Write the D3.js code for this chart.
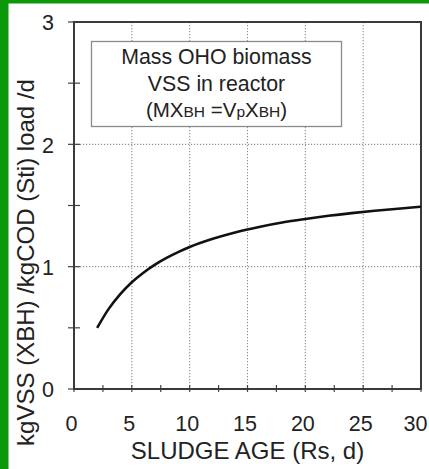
<!DOCTYPE html>
<html><head><meta charset="utf-8">
<script src="https://cdn.jsdelivr.net/npm/d3@7"></script>
<style>
html,body{margin:0;padding:0;background:#fff;}
svg{display:block;}
text{font-family:"Liberation Sans",Arial,sans-serif;fill:#222;}
</style></head>
<body>
<svg id="chart" width="429" height="469"></svg>
<script>
// Data
const sludgeAge = [2, 3, 4, 5, 6, 7, 8, 9, 10, 12, 14, 16, 18, 20, 22, 24, 26, 28, 30];
const biomassPerLoad = [0.50, 0.655, 0.776, 0.873, 0.951, 1.017, 1.072, 1.119, 1.161, 1.228, 1.282, 1.325, 1.361, 1.39, 1.416, 1.438, 1.457, 1.474, 1.49];
const xTicks = [0, 5, 10, 15, 20, 25, 30];
const yTicks = [0, 1, 2, 3];
const xMinorTicks = [2.5, 7.5, 12.5, 17.5, 22.5, 27.5];
const yMinorTicks = [0.5, 1.5, 2.5];
const xTitle = "SLUDGE AGE (Rs, d)";
const yTitle = "kgVSS (XBH) /kgCOD (Sti) load /d";

const svg = d3.select("#chart");
// green border strips
svg.append("rect").attr("x",0).attr("y",0).attr("width",429).attr("height",3.5).attr("fill","#0b990b");
svg.append("rect").attr("x",0).attr("y",0).attr("width",8.5).attr("height",469).attr("fill","#0b990b");

const L = 74, R = 421, T = 22, B = 389;
const x = d3.scaleLinear().domain([0,30]).range([L,R]);
const y = d3.scaleLinear().domain([0,3]).range([B,T]);

// gridlines
const grid = svg.append("g").attr("stroke","#8f8f8f").attr("stroke-width",1.1).attr("stroke-dasharray","1.2,1.8");
grid.selectAll("line.v").data(xTicks.filter(d=>d>0&&d<30)).join("line")
  .attr("x1",d=>x(d)).attr("x2",d=>x(d)).attr("y1",T).attr("y2",B);
grid.selectAll("line.h").data(yTicks.filter(d=>d>0&&d<3)).join("line")
  .attr("x1",L).attr("x2",R).attr("y1",d=>y(d)).attr("y2",d=>y(d));

// text box
svg.append("rect").attr("x",91.5).attr("y",41.5).attr("width",250).attr("height",85)
  .attr("fill","#fff").attr("stroke","#8a8a8a").attr("stroke-width",1.3);
const bx = 216.5;
svg.append("text").attr("x",bx).attr("y",64).attr("text-anchor","middle").attr("font-size",21.3).text("Mass OHO biomass");
svg.append("text").attr("x",bx).attr("y",90.5).attr("text-anchor","middle").attr("font-size",21.3).text("VSS in reactor");
const t3 = svg.append("text").attr("x",bx).attr("y",116.5).attr("text-anchor","middle").attr("font-size",20.5);
t3.append("tspan").text("(MX");
t3.append("tspan").attr("font-size",15.5).attr("dy",0.5).text("BH");
t3.append("tspan").attr("dy",-0.5).text(" =V");
t3.append("tspan").attr("font-size",15.5).attr("dy",0.5).text("p");
t3.append("tspan").attr("dy",-0.5).text("X");
t3.append("tspan").attr("font-size",15.5).attr("dy",0.5).text("BH");
t3.append("tspan").attr("dy",-0.5).text(")");

// axes with d3
const xAxis = d3.axisBottom(x).tickValues(xTicks).tickSize(0).tickPadding(0).tickFormat(d3.format("d"));
const gx = svg.append("g").attr("transform",`translate(0,${B})`).call(xAxis);
gx.select(".domain").remove();
gx.selectAll("text").attr("y",41.5).attr("dy",null).attr("x",d=>d===30?-6:-3)
  .attr("font-size",21.5).attr("fill","#222").attr("font-family","Liberation Sans, Arial, sans-serif");

const yAxis = d3.axisLeft(y).tickValues(yTicks).tickSize(0).tickPadding(0).tickFormat(d3.format("d"));
const gy = svg.append("g").attr("transform",`translate(${L},0)`).call(yAxis);
gy.select(".domain").remove();
gy.selectAll("text").attr("x",-20).attr("dy","0.36em").attr("font-size",21.5).attr("fill","#222").attr("font-family","Liberation Sans, Arial, sans-serif");

// ticks
const tk = svg.append("g").attr("stroke","#444").attr("stroke-width",1.2);
tk.selectAll("line.xt").data(xTicks.concat(xMinorTicks)).join("line")
  .attr("x1",d=>x(d)).attr("x2",d=>x(d)).attr("y1",B-4).attr("y2",B+3);
tk.selectAll("line.yt").data(yTicks.concat(yMinorTicks)).join("line")
  .attr("x1",L-6).attr("x2",L+6).attr("y1",d=>y(d)).attr("y2",d=>y(d));

// frame
svg.append("rect").attr("x",L).attr("y",T).attr("width",R-L).attr("height",B-T)
  .attr("fill","none").attr("stroke","#3a3a3a").attr("stroke-width",2);

// curve
const line = d3.line().x((d,i)=>x(sludgeAge[i])).y(d=>y(d)).curve(d3.curveMonotoneX);
svg.append("path").attr("d",line(biomassPerLoad)).attr("fill","none").attr("stroke","#111").attr("stroke-width",2.6);

// titles
svg.append("text").attr("x",247.5).attr("y",459).attr("text-anchor","middle").attr("font-size",24).text(xTitle);
svg.append("text").attr("transform","translate(34,262.5) rotate(-90)").attr("text-anchor","middle").attr("font-size",24).text(yTitle);
</script>
</body></html>
